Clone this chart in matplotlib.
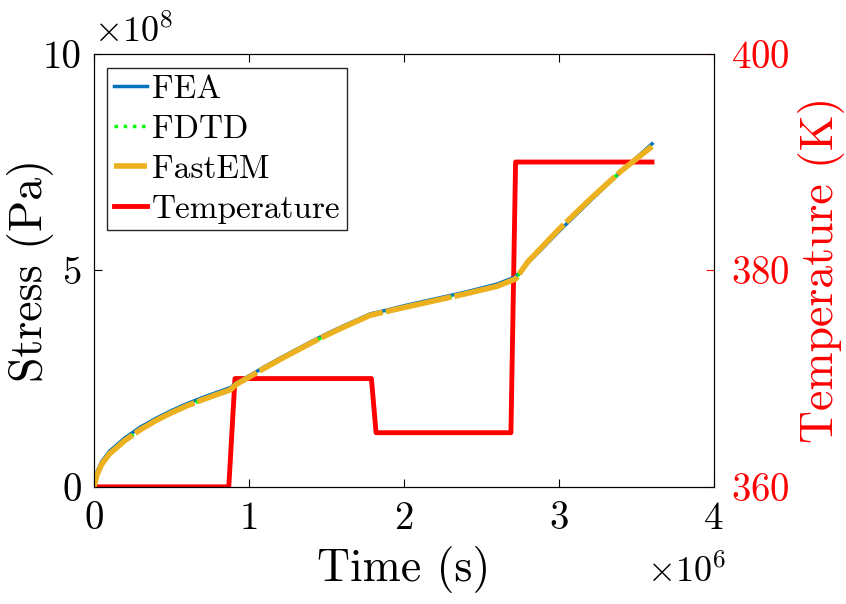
# stress and temperature vs time, FEA / FDTD / FastEM comparison
import numpy as np
import matplotlib
matplotlib.use('Agg')
import matplotlib.pyplot as plt
from matplotlib.ticker import FuncFormatter

plt.rcParams['font.family'] = 'serif'
plt.rcParams['font.serif'] = ['cmr10']
plt.rcParams['mathtext.fontset'] = 'cm'
plt.rcParams['axes.formatter.use_mathtext'] = True

# time in units of 1e6 s, stress in units of 1e8 Pa
time_fea = [0, 0.02, 0.05, 0.1, 0.2, 0.3, 0.4, 0.5, 0.6, 0.7, 0.8, 0.88, 0.92, 1.0,
            1.1, 1.2, 1.3, 1.4, 1.5, 1.6, 1.7, 1.78, 1.9, 2.0, 2.2, 2.4, 2.6, 2.72,
            2.8, 3.0, 3.2, 3.4, 3.6]
stress_fea = [0, 0.35, 0.58, 0.82, 1.13, 1.38, 1.58, 1.76, 1.92, 2.06, 2.19, 2.29, 2.4, 2.56,
              2.77, 2.97, 3.16, 3.35, 3.53, 3.7, 3.86, 3.99, 4.09, 4.18, 4.34, 4.5, 4.68, 4.85,
              5.17, 5.9, 6.6, 7.28, 7.92]
stress_fdtd = [0, 0.28, 0.52, 0.76, 1.07, 1.32, 1.53, 1.71, 1.87, 2.01, 2.14, 2.24, 2.37, 2.53,
               2.74, 2.94, 3.13, 3.32, 3.5, 3.67, 3.83, 3.96, 4.06, 4.14, 4.3, 4.46, 4.63, 4.8,
               5.2, 5.95, 6.64, 7.29, 7.86]
stress_fastem = stress_fdtd

time_temp = [0, 0.87, 0.91, 1.79, 1.82, 2.69, 2.72, 3.6]
temp = [360, 360, 370, 370, 365, 365, 390, 390]

t_fea = np.array(time_fea) * 1e6
t_temp = np.array(time_temp) * 1e6

fig, ax = plt.subplots(figsize=(8.46, 6.04), dpi=100)
fig.subplots_adjust(left=0.111, right=0.844, bottom=0.194, top=0.911)

l1, = ax.plot(t_fea, np.array(stress_fea) * 1e8, color='#0072BD', lw=2.5, label='FEA')
l2, = ax.plot(t_fea, np.array(stress_fdtd) * 1e8, color='#00FF00', lw=2.5, ls=':', label='FDTD')
l3, = ax.plot(t_fea, np.array(stress_fastem) * 1e8, color='#EDB120', lw=4, ls=(0, (12, 0.6)), label='FastEM')

ax.set_xlim(0, 4e6)
ax.set_ylim(0, 10e8)
ax.set_xticks([0, 1e6, 2e6, 3e6, 4e6])
ax.set_yticks([0, 5e8, 10e8])
ax.xaxis.set_major_formatter(FuncFormatter(lambda v, p: '%g' % (v / 1e6)))
ax.yaxis.set_major_formatter(FuncFormatter(lambda v, p: '%g' % (v / 1e8)))
ax.tick_params(direction='in', labelsize=28, length=6, top=True)
ax.tick_params(axis='x', pad=10)
ax.tick_params(axis='y', pad=9)
ax.text(0.0, 1.01, r'$\times 10^8$', transform=ax.transAxes, fontsize=26, ha='left', va='bottom')
ax.text(1.02, -0.155, r'$\times 10^6$', transform=ax.transAxes, fontsize=26, ha='right', va='top')
ax.set_xlabel('Time (s)', fontsize=33, labelpad=7)
ax.set_ylabel('Stress (Pa)', fontsize=33)
ax.yaxis.set_label_coords(-0.065, 0.5)

ax2 = ax.twinx()
l4, = ax2.plot(t_temp, temp, color='#FF0000', lw=3.5, label='Temperature')
ax2.set_ylim(360, 400)
ax2.set_yticks([360, 380, 400])
ax2.tick_params(direction='in', labelsize=28, length=6, colors='#FF0000', pad=12)
ax2.spines['right'].set_color('#B03030')
ax2.set_ylabel('Temperature (K)', fontsize=33, color='#FF0000', labelpad=6)

leg = ax.legend(handles=[l1, l2, l3, l4], loc='upper left', fontsize=24,
                handlelength=1.0, handletextpad=0.15, borderpad=0.2, labelspacing=0.32,
                borderaxespad=0, fancybox=False, framealpha=1, edgecolor='#262626',
                bbox_to_anchor=(0.021, 0.968))
leg.get_frame().set_linewidth(1.0)
ax.set_zorder(ax2.get_zorder() + 1)
ax.patch.set_visible(False)

plt.savefig('out.png', dpi=100)
